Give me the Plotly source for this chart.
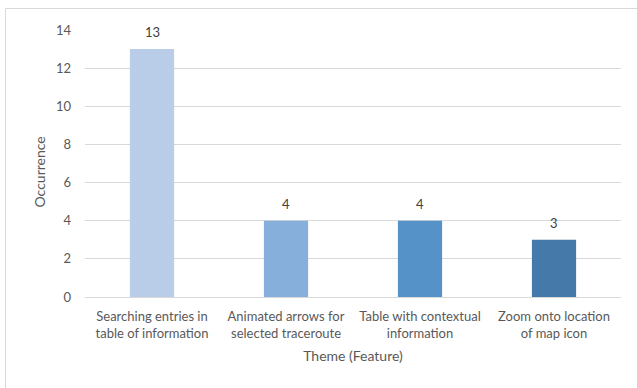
import plotly.graph_objects as go

# Feature themes and how often each was mentioned
categories = [
    "Searching entries in<br>table of information",
    "Animated arrows for<br>selected traceroute",
    "Table with contextual<br>information",
    "Zoom onto location<br>of map icon",
]
occurrences = [13, 4, 4, 3]
bar_colors = ["#b9cde8", "#86afdc", "#5592c8", "#4579a9"]
y_ticks = [0, 2, 4, 6, 8, 10, 12, 14]

FONT = "Lato, Open Sans, sans-serif"
GREY = "#595959"

W, H = 637, 388
L, R, T, B = 85, 16, 30, 91
pw, ph = W - L - R, H - T - B

fig = go.Figure(
    go.Bar(
        x=categories,
        y=occurrences,
        marker=dict(color=bar_colors, line=dict(width=0)),
        width=0.33,
        cliponaxis=False,
    )
)

# Value labels above each bar
for cat, val in zip(categories, occurrences):
    fig.add_annotation(
        x=cat, y=val, xref="x", yref="y",
        text=str(val), showarrow=False,
        yanchor="bottom", yshift=7,
        font=dict(family=FONT, size=13, color="#404040"),
    )

# Vertical axis title, centred on the chart area rather than the plot area
fig.add_annotation(
    xref="paper", yref="paper",
    x=(39 - L) / pw, y=(T + ph - 172.5) / ph,
    xanchor="center", yanchor="middle",
    text="Occurrence", textangle=-90, showarrow=False,
    font=dict(family=FONT, size=14, color=GREY),
)

# Outer chart frame (light grey), extending past the right/bottom edges
fig.add_shape(
    type="rect",
    xref="paper", yref="paper",
    x0=(5.5 - L) / pw, x1=(W + 20 - L) / pw,
    y0=(T + ph - (H + 20)) / ph, y1=(T + ph - 8.5) / ph,
    line=dict(color="#d9d9d9", width=1),
    fillcolor="rgba(0,0,0,0)",
    layer="below",
)

fig.update_layout(
    width=W,
    height=H,
    margin=dict(l=L, r=R, t=T, b=B),
    paper_bgcolor="white",
    plot_bgcolor="white",
    showlegend=False,
    font=dict(family=FONT, size=13, color=GREY),
    xaxis=dict(
        title=dict(text="Theme (Feature)", font=dict(family=FONT, size=14, color=GREY), standoff=11),
        tickfont=dict(family=FONT, size=13, color=GREY),
        ticklabelstandoff=7,
        showgrid=False,
        showline=True,
        linecolor="#d9d9d9",
        linewidth=1,
        ticks="",
        fixedrange=True,
    ),
    yaxis=dict(
        range=[0, 14],
        tickvals=y_ticks,
        tickfont=dict(family=FONT, size=13, color=GREY),
        ticklabelstandoff=13,
        showgrid=True,
        gridcolor="#d9d9d9",
        gridwidth=1,
        zeroline=False,
        showline=False,
        ticks="",
        ticklen=0,
        fixedrange=True,
    ),
    bargap=0.67,
)

fig.write_html("out.html")
